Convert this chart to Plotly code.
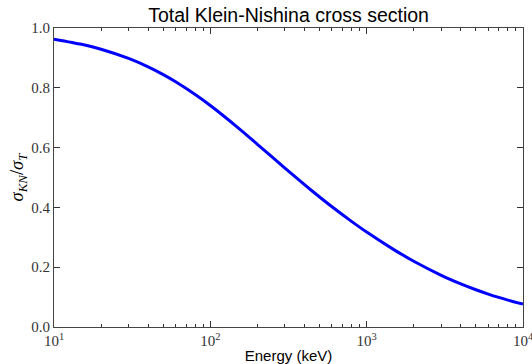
import plotly.graph_objects as go

energy_kev = [10, 15, 20, 30, 40, 50, 60, 80, 100, 150, 200, 300, 400, 500, 600, 800,
              1000, 1500, 2000, 3000, 4000, 5000, 6000, 7000, 8000, 10000]
sigma_ratio = [0.9628, 0.9455, 0.9290, 0.8982, 0.8700, 0.8441, 0.8202, 0.7775, 0.7407,
               0.6669, 0.6111, 0.5314, 0.4761, 0.4348, 0.4021, 0.3533, 0.3175, 0.2580,
               0.2200, 0.1730, 0.1443, 0.1246, 0.1101, 0.0989, 0.0900, 0.0766]
x_tickvals = [10, 100, 1000, 10000]
x_ticktext = ["10<sup>1</sup>", "10<sup>2</sup>", "10<sup>3</sup>", "10<sup>4</sup>"]
y_tickvals = [0.0, 0.2, 0.4, 0.6, 0.8, 1.0]
y_ticktext = ["0.0", "0.2", "0.4", "0.6", "0.8", "1.0"]

fig = go.Figure()
fig.add_trace(go.Scatter(x=energy_kev, y=sigma_ratio, mode="lines",
                         line=dict(color="#0000ff", width=3, shape="spline", smoothing=0.6),
                         showlegend=False, cliponaxis=False))

serif = "Liberation Serif"
sans = "Liberation Sans"

fig.update_layout(
    width=532, height=364,
    margin=dict(l=54, r=9, t=28, b=37, autoexpand=False),
    paper_bgcolor="white", plot_bgcolor="white",
    title=dict(text="Total Klein-Nishina cross section", x=0.5425, xanchor="center",
               y=0.958, yanchor="middle", font=dict(family=sans, size=19.5, color="black")),
)
fig.update_xaxes(
    type="log", range=[1, 4], tickvals=x_tickvals, ticktext=x_ticktext,
    ticks="inside", ticklen=6, tickwidth=1, tickcolor="#333",
    showline=True, linecolor="#444", linewidth=1.2, mirror="allticks",
    showgrid=False, zeroline=False, ticklabeloverflow="allow", automargin=False,
    tickfont=dict(family=serif, size=15, color="#333"),
    title=dict(text="Energy (keV)", font=dict(family=sans, size=15, color="black"), standoff=3),
    minor=dict(ticks="inside", ticklen=3, tickcolor="#333", dtick="D1", showgrid=False),
)
fig.update_yaxes(
    range=[0, 1.0], tickvals=y_tickvals, ticktext=y_ticktext,
    ticks="inside", ticklen=6, tickwidth=1, tickcolor="#333",
    showline=True, linecolor="#444", linewidth=1.2, mirror="allticks",
    showgrid=False, zeroline=False, ticklabeloverflow="allow", automargin=False,
    tickfont=dict(family=serif, size=15, color="#333"),
    title=dict(text="<i>σ</i><sub><i>KN</i></sub>/<i>σ</i><sub><i>T</i></sub>",
               font=dict(family=serif, size=18.5, color="black"), standoff=2),
)

fig.write_html("out.html")
